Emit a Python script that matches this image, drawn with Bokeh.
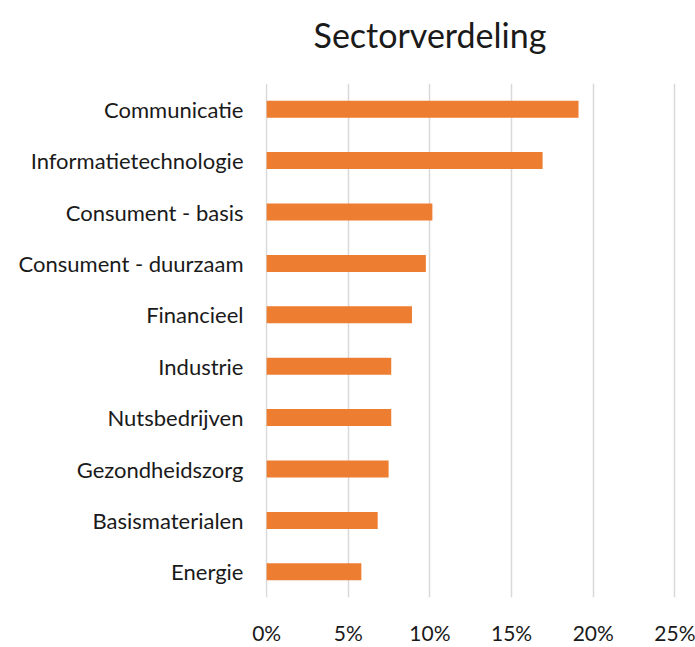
from bokeh.plotting import figure
from bokeh.models import FactorRange, FixedTicker, CustomJSTickFormatter, Div
from bokeh.layouts import column
from bokeh.embed import file_html
from bokeh.resources import INLINE

title_text = "Sectorverdeling"
sectors = ["Communicatie", "Informatietechnologie", "Consument - basis",
           "Consument - duurzaam", "Financieel", "Industrie", "Nutsbedrijven",
           "Gezondheidszorg", "Basismaterialen", "Energie"]
weights = [19.1, 16.9, 10.15, 9.75, 8.9, 7.63, 7.63, 7.47, 6.8, 5.8]
x_ticks = [0, 5, 10, 15, 20, 25]

FONT = "Lato"
TEXT = "#1a1a1a"

title_div = Div(
    text=('<div style="width:695px;box-sizing:border-box;padding-left:165px;'
          'padding-top:18px;text-align:center;font-family:Lato;font-size:34px;'
          'line-height:1;color:%s;white-space:nowrap;margin:0">%s</div>') % (TEXT, title_text),
    width=695, height=83, margin=0)

p = figure(width=695, height=564, output_backend="svg", toolbar_location=None,
           y_range=FactorRange(factors=list(reversed(sectors))),
           x_range=(-0.07, 25.1),
           min_border_left=265, min_border_right=19, min_border_top=0,
           min_border_bottom=50, margin=0)

p.hbar(y=sectors, right=weights, left=0, height=0.33, color="#ED7D31", line_color=None)

p.outline_line_color = None
p.ygrid.grid_line_color = None
p.xgrid.ticker = FixedTicker(ticks=x_ticks)
p.xgrid.grid_line_color = "#d9d9d9"
p.xgrid.grid_line_width = 1.5

p.xaxis.ticker = FixedTicker(ticks=x_ticks)
p.xaxis.formatter = CustomJSTickFormatter(code="return tick + '%';")
for ax in (p.xaxis, p.yaxis):
    ax.axis_line_color = None
    ax.major_tick_line_color = None
    ax.minor_tick_line_color = None
    ax.major_label_text_font = FONT
    ax.major_label_text_color = TEXT
p.yaxis.major_label_text_font_size = "22px"
p.xaxis.major_label_text_font_size = "21px"
p.xaxis.major_label_standoff = 16
p.yaxis.major_label_standoff = 16

layout = column(title_div, p, spacing=0, margin=0)
open("out.html", "w").write(file_html(layout, INLINE))
